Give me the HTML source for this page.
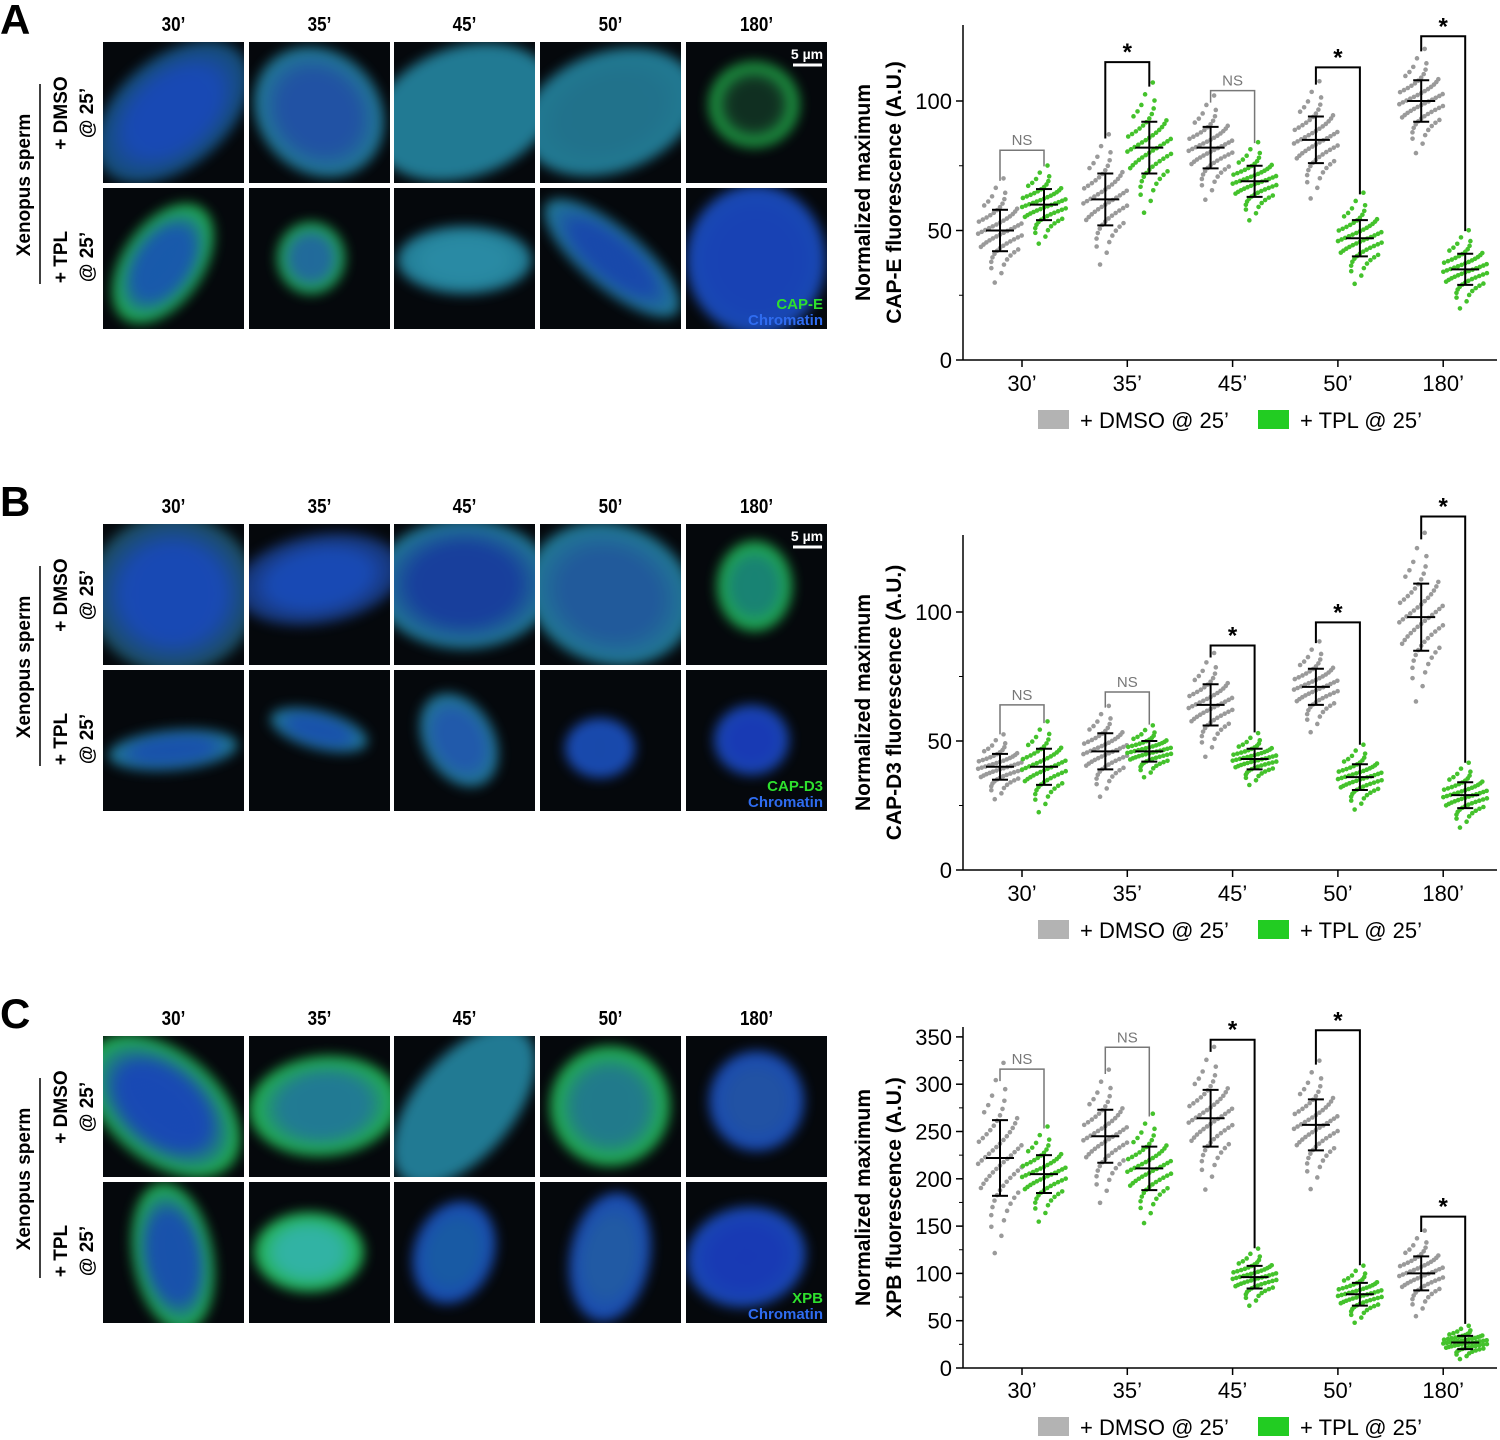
<!DOCTYPE html>
<html><head><meta charset="utf-8">
<style>
body{margin:0;width:1500px;height:1440px;background:#fff;position:relative;overflow:hidden;font-family:"Liberation Sans",sans-serif}
.abs{position:absolute}
.img{position:absolute;width:141px;height:141px;background:#05080c;overflow:hidden}
.blob{position:absolute;border-radius:50%}
.hdr{position:absolute;font-weight:bold;font-size:20px;width:141px;text-align:center;transform:scaleX(0.85)}
.letter{position:absolute;font-weight:bold;font-size:42px;left:0}
.rot{position:absolute;transform:rotate(-90deg);transform-origin:center;white-space:nowrap;font-weight:bold;font-size:19px;text-align:center}
</style></head><body>
<div id="root"></div>
<svg id="chart" class="abs" style="left:0;top:0" width="1500" height="1440"></svg>
<script>
// ---- chart data ----
const categories = ["30’","35’","45’","50’","180’"];
const aDmsoMean=[50,62,82,85,100], aDmsoSd=[8,10,8,9,8];
const aTplMean=[60,82,69,47,35], aTplSd=[6,10,6,7,6];
const aBracket=[81,115,104,113,125], aSig=["NS","*","NS","*","*"];
const aTicks=[0,50,100];
const bDmsoMean=[40,46,64,71,98], bDmsoSd=[5,7,8,7,13];
const bTplMean=[40,46,43,36,29], bTplSd=[7,4,4,5,5];
const bBracket=[64,69,87,96,137], bSig=["NS","NS","*","*","*"];
const bTicks=[0,50,100];
const cDmsoMean=[222,245,264,257,100], cDmsoSd=[40,28,30,27,18];
const cTplMean=[205,211,96,78,27], cTplSd=[20,23,12,12,7];
const cBracket=[316,339,347,357,160], cSig=["NS","NS","*","*","*"];
const cTicks=[0,50,100,150,200,250,300,350];

const root=document.getElementById('root');
const svg=document.getElementById('chart');
const NS='http://www.w3.org/2000/svg';
function S(tag,attrs,parent){const e=document.createElementNS(NS,tag);for(const k in attrs)e.setAttribute(k,attrs[k]);(parent||svg).appendChild(e);return e;}

// ---- microscopy panels ----
const colX=[103,249,394,540,686];
const rows={A:[42,188],B:[524,670],C:[1036,1182]};
const blue='rgba(30,90,220,0.95)',teal='rgba(40,150,180,0.95)',green='rgba(40,220,90,0.95)',cyan='rgba(50,170,200,0.95)';
const panels={
A:[[[70,70,180,110,-40,blue,'rgba(30,110,160,0.8)'],[70,70,120,140,-45,'rgba(40,100,200,0.95)',teal],[70,70,190,130,-20,teal,teal],[70,70,180,120,-20,'rgba(40,140,170,0.95)',teal],[68,62,90,85,0,'rgba(20,60,40,0.9)',green]],
   [[60,75,80,135,35,'rgba(30,110,210,0.95)',green],[62,70,68,72,0,'rgba(40,130,190,0.95)',green],[70,72,135,68,0,cyan,teal],[72,70,170,60,40,'rgba(30,90,210,0.95)',teal],[70,72,140,150,0,'rgba(30,80,220,0.95)',blue]]],
B:[[[70,70,170,160,0,blue,'rgba(40,110,130,0.8)'],[70,55,170,90,-10,blue,'rgba(30,70,150,0.8)'],[70,60,180,130,0,'rgba(30,80,200,0.9)',teal],[70,70,170,140,20,'rgba(40,110,190,0.95)',teal],[68,62,75,90,0,'rgba(30,160,140,0.95)',green]],
   [[70,80,130,40,-5,'rgba(30,100,210,0.95)',teal],[70,60,100,38,15,'rgba(30,100,210,0.95)',teal],[65,70,70,100,-30,'rgba(40,110,210,0.95)',teal],[60,78,70,60,0,'rgba(30,90,210,0.95)',blue],[65,70,75,70,0,'rgba(30,70,220,0.95)',blue]]],
C:[[[60,70,110,180,-50,blue,green],[75,70,150,100,-5,teal,green],[70,70,100,190,40,teal,teal],[70,70,120,120,0,'rgba(40,150,170,0.95)',green],[70,65,95,100,0,'rgba(40,100,200,0.95)',blue]],
   [[70,75,80,150,-10,'rgba(30,100,210,0.95)',green],[60,70,110,80,0,'rgba(60,220,200,0.95)',green],[60,70,80,105,20,'rgba(30,110,200,0.95)',blue],[70,75,80,130,10,'rgba(40,110,200,0.95)',blue],[60,75,120,100,-10,'rgba(30,70,220,0.95)',blue]]]
};
for(const key of ['A','B','C']){
  for(let r=0;r<2;r++)for(let c=0;c<5;c++){
    const d=document.createElement('div');d.className='img';
    d.style.left=colX[c]+'px';d.style.top=rows[key][r]+'px';
    
    
    const p=panels[key][r][c];
    const b=document.createElement('div');b.className='blob';
    b.style.left=(p[0]-p[2]/2)+'px';b.style.top=(p[1]-p[3]/2)+'px';b.style.width=p[2]+'px';b.style.height=p[3]+'px';
    b.style.transform='rotate('+p[4]+'deg)';
    b.style.background='radial-gradient(ellipse at center,'+p[5]+' 0%,'+p[5]+' 40%,'+p[6]+' 68%,rgba(0,0,0,0) 100%)';
    b.style.filter='blur(6px)';b.style.opacity='0.85';
    d.appendChild(b);root.appendChild(d);
  }
  const top=rows[key][0];
  const L=document.createElement('div');L.className='letter';L.textContent=key;L.style.top=(top-46)+'px';
  
  
  root.appendChild(L);
  for(let c=0;c<5;c++){const h=document.createElement('div');h.className='hdr';h.textContent=categories[c];h.style.left=colX[c]+'px';h.style.top=(top-28)+'px';
    
    
    root.appendChild(h);}
  const mk=(txt,cx,cy,w,name)=>{const e=document.createElement('div');e.className='rot';e.innerHTML=txt;e.style.width=w+'px';e.style.left=(cx-w/2)+'px';e.style.top=(cy-12)+'px';
    
    
    root.appendChild(e);};
  mk('Xenopus sperm',25,top+144,200,'row-group-label');
  mk('+ DMSO',62,top+72,120,'dmso-row-label');mk('@ 25’',88,top+72,120,'dmso-row-time');
  mk('+ TPL',62,top+216,120,'tpl-row-label');mk('@ 25’',88,top+216,120,'tpl-row-time');
  S('line',{x1:40,x2:40,y1:top+42,y2:top+242,stroke:'#000','stroke-width':1.5});
  const lab=key==='A'?'CAP-E':key==='B'?'CAP-D3':'XPB';
  const t1=S('text',{x:823,y:rows[key][1]+121,'text-anchor':'end','font-size':15,'font-weight':'bold',fill:'#2ee02e','font-family':'Liberation Sans'});t1.textContent=lab;
  
  
  const t2=S('text',{x:823,y:rows[key][1]+137,'text-anchor':'end','font-size':15,'font-weight':'bold',fill:'#2f6cf0','font-family':'Liberation Sans'});t2.textContent='Chromatin';
  
  
  if(key!=='C'){S('line',{x1:793,x2:822,y1:top+23,y2:top+23,stroke:'#fff','stroke-width':3});
    const sb=S('text',{x:807,y:top+17,'text-anchor':'middle','font-size':14,'font-weight':'bold',fill:'#fff','font-family':'Liberation Sans'});sb.textContent='5 µm';
    
    }
}

// ---- charts ----
function invNorm(p){const a=[-39.696830,220.946098,-275.928510,138.357751,-30.664798,2.506628],b=[-54.476098,161.585836,-155.698979,66.801311,-13.280681],c=[-0.007784894,-0.32239645,-2.400758,-2.549732,4.374664,2.938163],d=[0.007784695,0.32246712,2.445134,3.754408];
 let q,r;if(p<0.02425){q=Math.sqrt(-2*Math.log(p));return(((((c[0]*q+c[1])*q+c[2])*q+c[3])*q+c[4])*q+c[5])/((((d[0]*q+d[1])*q+d[2])*q+d[3])*q+1);}
 if(p>1-0.02425){q=Math.sqrt(-2*Math.log(1-p));return-(((((c[0]*q+c[1])*q+c[2])*q+c[3])*q+c[4])*q+c[5])/((((d[0]*q+d[1])*q+d[2])*q+d[3])*q+1);}
 q=p-0.5;r=q*q;return(((((a[0]*r+a[1])*r+a[2])*r+a[3])*r+a[4])*r+a[5])*q/(((((b[0]*r+b[1])*r+b[2])*r+b[3])*r+b[4])*r+1);}

function chart(cfg){
  const {y0,yPerUnit,top,ticks,dm,ds,tm,ts,br,sig,ylab,legendY,xlabY}=cfg;
  const xC=i=>1022+i*105.3;
  const yS=v=>y0-v*yPerUnit;
  const g=S('g',{});
  S('line',{x1:963,x2:963,y1:top,y2:y0,stroke:'#000','stroke-width':1.5},g);
  S('line',{x1:963,x2:1497,y1:y0,y2:y0,stroke:'#000','stroke-width':1.5},g);
  ticks.forEach(t=>{S('line',{x1:956,x2:963,y1:yS(t),y2:yS(t),stroke:'#000','stroke-width':1.5},g);
    const tx=S('text',{x:952,y:yS(t)+8,'text-anchor':'end','font-size':22,'font-family':'Liberation Sans'},g);tx.textContent=t;
    
    });
  for(let t=ticks[0];t<=ticks[ticks.length-1];t+=(ticks[1]-ticks[0])/2)S('line',{x1:959,x2:963,y1:yS(t),y2:yS(t),stroke:'#000','stroke-width':1},g);
  categories.forEach((c,i)=>{S('line',{x1:xC(i),x2:xC(i),y1:y0,y2:y0+7,stroke:'#000','stroke-width':1.5},g);
    const tx=S('text',{x:xC(i),y:xlabY,'text-anchor':'middle','font-size':22,'font-family':'Liberation Sans'},g);tx.textContent=c;
    
    });
  const n=60;
  function group(cx,mean,sd,color,name){
    const gg=S('g',{},g);
    for(let i=0;i<n;i++){const z=invNorm((i+0.5)/n);const v=Math.max(0,mean+sd*1.05*z);
      const off=(((i*7)%13)-6)/6*22*Math.exp(-z*z/4);
      S('circle',{cx:cx+off,cy:yS(v),r:2.3,fill:color},gg);}
    S('line',{x1:cx,x2:cx,y1:yS(mean+sd),y2:yS(mean-sd),stroke:'#000','stroke-width':2},gg);
    S('line',{x1:cx-8,x2:cx+8,y1:yS(mean+sd),y2:yS(mean+sd),stroke:'#000','stroke-width':2},gg);
    S('line',{x1:cx-8,x2:cx+8,y1:yS(mean-sd),y2:yS(mean-sd),stroke:'#000','stroke-width':2},gg);
    S('line',{x1:cx-14,x2:cx+14,y1:yS(mean),y2:yS(mean),stroke:'#000','stroke-width':2},gg);
  }
  categories.forEach((c,i)=>{
    group(xC(i)-22,dm[i],ds[i],'#9a9a9a','dmso-dots-'+i);
    group(xC(i)+22,tm[i],ts[i],'#44c22c','tpl-dots-'+i);
    const by=yS(br[i]);const col=sig[i]==='NS'?'#777':'#000';const w=sig[i]==='NS'?1.5:2;
    const l=yS(dm[i]+ds[i]*2.2)-4, r=yS(tm[i]+ts[i]*2.2)-4;
    S('polyline',{points:`${xC(i)-22},${Math.max(l,by+12)} ${xC(i)-22},${by} ${xC(i)+22},${by} ${xC(i)+22},${Math.max(r,by+12)}`,fill:'none',stroke:col,'stroke-width':w,},g);
    const st=S('text',{x:xC(i),y:sig[i]==='NS'?by-5:by-2,'text-anchor':'middle','font-size':sig[i]==='NS'?15:24,'font-weight':sig[i]==='NS'?'normal':'bold',fill:col,'font-family':'Liberation Sans'},g);st.textContent=sig[i];
    
    
  });
  const midY=(top+y0)/2;
  ylab.forEach((t,k)=>{const x=870+k*31;const tx=S('text',{x:x,y:midY,'text-anchor':'middle','font-size':21,'font-weight':'bold','font-family':'Liberation Sans',transform:`rotate(-90 ${x} ${midY})`},g);tx.textContent=t;
    
    });
  S('rect',{x:1038,y:legendY-10,width:31,height:19,fill:'#b3b3b3',},g);
  const l1=S('text',{x:1080,y:legendY+8,'font-size':22,'font-family':'Liberation Sans'},g);l1.textContent='+ DMSO @ 25’';
  
  
  S('rect',{x:1258,y:legendY-10,width:31,height:19,fill:'#22cc22',},g);
  const l2=S('text',{x:1300,y:legendY+8,'font-size':22,'font-family':'Liberation Sans'},g);l2.textContent='+ TPL @ 25’';
  
  
}
chart({name:'chart-cap-e',y0:360,yPerUnit:2.59,top:25,ticks:aTicks,dm:aDmsoMean,ds:aDmsoSd,tm:aTplMean,ts:aTplSd,br:aBracket,sig:aSig,ylab:['Normalized maximum','CAP-E fluorescence (A.U.)'],legendY:420,xlabY:391});
chart({name:'chart-cap-d3',y0:870,yPerUnit:2.58,top:535,ticks:bTicks,dm:bDmsoMean,ds:bDmsoSd,tm:bTplMean,ts:bTplSd,br:bBracket,sig:bSig,ylab:['Normalized maximum','CAP-D3 fluorescence (A.U.)'],legendY:930,xlabY:901});
chart({name:'chart-xpb',y0:1368,yPerUnit:0.946,top:1027,ticks:cTicks,dm:cDmsoMean,ds:cDmsoSd,tm:cTplMean,ts:cTplSd,br:cBracket,sig:cSig,ylab:['Normalized maximum','XPB fluorescence (A.U.)'],legendY:1427,xlabY:1398});
</script>
</body></html>
